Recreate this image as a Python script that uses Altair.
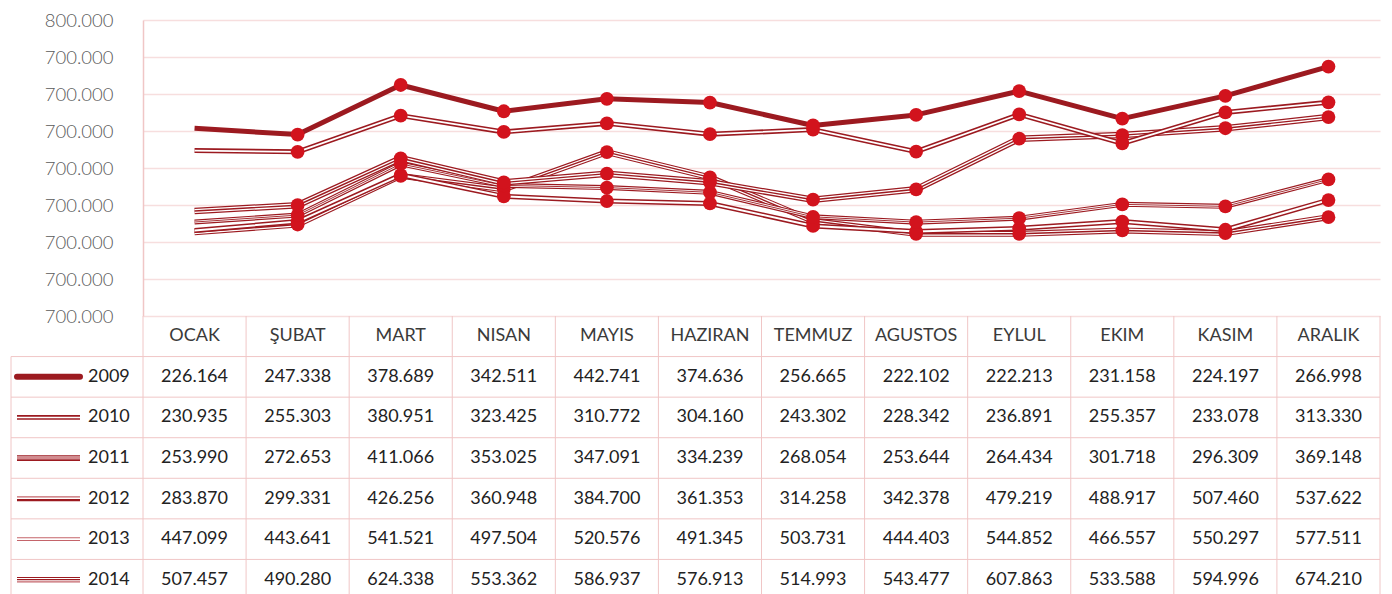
import altair as alt
import pandas as pd

months = ["OCAK", "ŞUBAT", "MART", "NISAN", "MAYIS", "HAZIRAN",
          "TEMMUZ", "AGUSTOS", "EYLUL", "EKIM", "KASIM", "ARALIK"]
years = ["2009", "2010", "2011", "2012", "2013", "2014"]

v2009 = [226.164, 247.338, 378.689, 342.511, 442.741, 374.636, 256.665, 222.102, 222.213, 231.158, 224.197, 266.998]
v2010 = [230.935, 255.303, 380.951, 323.425, 310.772, 304.160, 243.302, 228.342, 236.891, 255.357, 233.078, 313.330]
v2011 = [253.990, 272.653, 411.066, 353.025, 347.091, 334.239, 268.054, 253.644, 264.434, 301.718, 296.309, 369.148]
v2012 = [283.870, 299.331, 426.256, 360.948, 384.700, 361.353, 314.258, 342.378, 479.219, 488.917, 507.460, 537.622]
v2013 = [447.099, 443.641, 541.521, 497.504, 520.576, 491.345, 503.731, 444.403, 544.852, 466.557, 550.297, 577.511]
v2014 = [507.457, 490.280, 624.338, 553.362, 586.937, 576.913, 514.993, 543.477, 607.863, 533.588, 594.996, 674.210]

y_ticks = [0, 100, 200, 300, 400, 500, 600, 700, 800]

series = {"2009": v2009, "2010": v2010, "2011": v2011,
          "2012": v2012, "2013": v2013, "2014": v2014}

rows = []
for yr in years:
    for i, m in enumerate(months):
        rows.append({"year": yr, "month": m, "mi": i, "value": series[yr][i]})
df = pd.DataFrame(rows)
header_df = pd.DataFrame({"month": months, "row": ["header"] * len(months)})
month_df = pd.DataFrame({"month": months, "mi": list(range(len(months)))})
year_df = pd.DataFrame({"row": years})

DARK = "#9c1a20"
MARK = "#d2131d"
MID = "#c4646a"
WHITE = "#ffffff"
GRID = "#f7dede"
BORDER = "#f0c6c6"

TOP = 12
W = 1237
BASE = 316 - 8 - TOP          # plot-area y of the zero line / table top
H = 594 - 8 - TOP

xscale = alt.Scale(domain=months, paddingInner=0, paddingOuter=0)
yscale = alt.Scale(domain=[0, 800], range=[BASE, 0], nice=False, zero=False)
rscale = alt.Scale(domain=["header"] + years, range=[BASE, BASE + 284],
                   paddingInner=0, paddingOuter=0)


def X(bp):
    return alt.X("month:N", scale=xscale, bandPosition=bp, axis=None, sort=months)


# ---------------- line chart ----------------
chart_styles = {
    "2009": [(6.0, DARK), (3.8, WHITE), (1.4, DARK)],
    "2010": [(5.0, DARK), (2.0, WHITE)],
    "2011": [(5.0, DARK), (2.6, WHITE), (0.9, DARK)],
    "2012": [(6.5, DARK), (4.0, WHITE), (1.4, DARK)],
    "2013": [(5.0, DARK), (1.8, WHITE)],
    "2014": [(5.0, DARK)],
}

y_axis = alt.Axis(values=y_ticks, orient="left",
                  labelExpr="datum.value == 800 ? '800.000' : '700.000'",
                  grid=True, gridColor=GRID, gridWidth=1.5,
                  ticks=False, domain=True, domainColor=BORDER, domainWidth=1.5,
                  labelFont="Lato", labelFontSize=18.5, labelFontWeight=300,
                  labelColor="#595959", labelPadding=30, title=None)

line_layers = []
for yr in years:
    for (w, c) in chart_styles[yr]:
        line_layers.append(
            alt.Chart(df).transform_filter(alt.datum.year == yr)
            .mark_line(color=c, strokeWidth=w, strokeJoin="round")
            .encode(x=X(0.5),
                    y=alt.Y("value:Q", scale=yscale, axis=y_axis),
                    order="mi:O")
        )

points = (alt.Chart(df).transform_filter(alt.datum.mi > 0)
          .mark_circle(color=MARK, size=190, opacity=1)
          .encode(x=X(0.5), y=alt.Y("value:Q", scale=yscale, axis=y_axis)))
line_layers.append(points)
lines = alt.layer(*line_layers)

# ---------------- data table ----------------
vrules = (alt.Chart(month_df).mark_rule(color=BORDER, strokeWidth=1)
          .encode(x=X(0), y=alt.value(BASE), y2=alt.value(H)))
vright = (alt.Chart(month_df).transform_filter(alt.datum.mi == 11)
          .mark_rule(color=BORDER, strokeWidth=1)
          .encode(x=X(1), y=alt.value(BASE), y2=alt.value(H)))
hrules = (alt.Chart(year_df).mark_rule(color=BORDER, strokeWidth=1)
          .encode(y=alt.Y("row:N", scale=rscale, bandPosition=0, axis=None),
                  x=alt.value(-132), x2=alt.value(W)))
lborder = (alt.Chart(year_df).transform_filter(alt.datum.row == "2009")
           .mark_rule(color=BORDER, strokeWidth=1)
           .encode(y=alt.Y("row:N", scale=rscale, bandPosition=0, axis=None),
                   y2=alt.value(H), x=alt.value(-132)))

header = (alt.Chart(header_df)
          .mark_text(font="Lato", fontSize=18, color="#3a3a3a")
          .encode(x=X(0.5),
                  y=alt.Y("row:N", scale=rscale, bandPosition=0.5, axis=None),
                  text="month:N"))
cells = (alt.Chart(df)
         .mark_text(font="Lato", fontSize=18, color="#222222")
         .encode(x=X(0.5),
                 y=alt.Y("year:N", scale=rscale, bandPosition=0.5, axis=None),
                 text=alt.Text("value:Q", format=".3f")))

legend_styles = {
    "2009": [(0, 6.0, DARK, "round")],
    "2010": [(-1.6, 1.6, DARK, "butt"), (1.6, 1.6, DARK, "butt")],
    "2011": [(-2.2, 1.3, DARK, "butt"), (0, 1.3, MID, "butt"), (2.2, 1.8, DARK, "butt")],
    "2012": [(-1.6, 1.3, MID, "butt"), (1.6, 2.4, DARK, "butt")],
    "2013": [(-1.4, 1.1, MID, "butt"), (1.4, 1.1, MID, "butt")],
    "2014": [(-2.2, 1.2, DARK, "butt"), (0, 1.2, DARK, "butt"), (2.2, 1.3, MID, "butt")],
}
legend_layers = []
for yr in years:
    for (off, w, c, cap) in legend_styles[yr]:
        legend_layers.append(
            alt.Chart(year_df).transform_filter(alt.datum.row == yr)
            .mark_rule(color=c, strokeWidth=w, yOffset=off, strokeCap=cap)
            .encode(y=alt.Y("row:N", scale=rscale, bandPosition=0.5, axis=None),
                    x=alt.value(-126), x2=alt.value(-63))
        )
legend_text = (alt.Chart(year_df)
               .mark_text(font="Lato", fontSize=18, color="#222222", align="left")
               .encode(y=alt.Y("row:N", scale=rscale, bandPosition=0.5, axis=None),
                       x=alt.value(-55), text="row:N"))

table = alt.layer(vrules, vright, hrules, lborder, header, cells,
                  *legend_layers, legend_text)

chart = (alt.layer(lines, table)
         .resolve_scale(y="independent")
         .properties(width=W, height=H,
                     autosize=alt.AutoSizeParams(type="none"),
                     padding={"left": 135, "top": TOP, "right": 4, "bottom": 0},
                     background="white")
         .configure_view(stroke=None))

chart.save("out.html", embed_options={"renderer": "svg", "actions": False})
